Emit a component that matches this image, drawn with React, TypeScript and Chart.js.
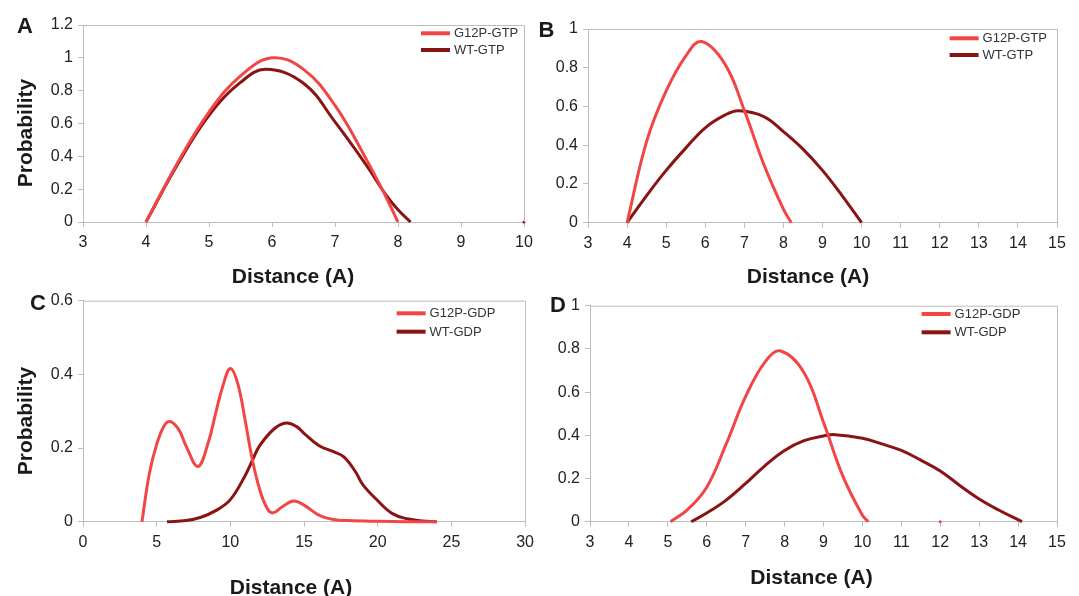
import React, { useEffect, useRef } from 'react';
import { Chart, registerables } from 'chart.js';

Chart.register(...registerables);

// ---------- data ----------
const A_G12P_X = [4, 4.5, 5, 5.5, 6, 6.5, 7, 7.5, 7.8, 8];
const A_G12P_Y = [0, 0.36, 0.67, 0.89, 1.0, 0.93, 0.71, 0.38, 0.16, 0];
const A_WT_X = [4, 4.5, 5, 5.5, 5.9, 6.5, 7, 7.5, 7.8, 8, 8.2];
const A_WT_Y = [0, 0.35, 0.65, 0.85, 0.93, 0.845, 0.61, 0.345, 0.17, 0.075, 0];
const A_DOT_X = [10];
const A_DOT_Y = [0];

const B_G12P_X = [4, 4.5, 5, 5.5, 5.9, 6.5, 7, 7.5, 8, 8.2];
const B_G12P_Y = [0, 0.42, 0.68, 0.86, 0.935, 0.82, 0.58, 0.3, 0.07, 0];
const B_WT_X = [4, 4.5, 5, 5.5, 6, 6.5, 6.85, 7.5, 8, 8.5, 9, 9.5, 10];
const B_WT_Y = [0, 0.14, 0.27, 0.385, 0.49, 0.555, 0.578, 0.548, 0.47, 0.38, 0.27, 0.14, 0];

const C_G12P_X = [4, 4.5, 5, 5.5, 5.9, 6.5, 7, 7.8, 8.5, 9, 9.5, 10, 10.5, 11, 11.5, 12, 12.5, 12.9, 13.5, 14.3, 15, 16, 17, 18, 20, 22, 24];
const C_G12P_Y = [0, 0.13, 0.21, 0.26, 0.272, 0.25, 0.205, 0.15, 0.215, 0.294, 0.37, 0.416, 0.375, 0.276, 0.167, 0.086, 0.036, 0.024, 0.04, 0.056, 0.045, 0.018, 0.006, 0.003, 0.001, 0, 0];
const C_WT_X = [5.7, 7, 8, 9, 10, 11, 11.5, 12, 13, 13.8, 14.5, 15, 16, 17, 17.7, 18.5, 19, 20, 21, 22, 23, 24];
const C_WT_Y = [0, 0.003, 0.012, 0.03, 0.06, 0.125, 0.167, 0.207, 0.253, 0.268, 0.258, 0.24, 0.207, 0.19, 0.176, 0.135, 0.1, 0.057, 0.022, 0.008, 0.002, 0];

const D_G12P_X = [5.07, 5.5, 6, 6.5, 7, 7.5, 7.9, 8.5, 9, 9.5, 10, 10.15];
const D_G12P_Y = [0, 0.055, 0.16, 0.36, 0.58, 0.74, 0.79, 0.69, 0.46, 0.21, 0.03, 0];
const D_WT_X = [5.6, 6, 6.5, 7, 7.5, 8, 8.5, 9, 9.3, 10, 10.5, 11, 11.5, 12, 12.5, 13, 13.5, 14.1];
const D_WT_Y = [0, 0.04, 0.1, 0.177, 0.26, 0.33, 0.375, 0.397, 0.403, 0.386, 0.36, 0.33, 0.285, 0.235, 0.168, 0.105, 0.054, 0];
const D_DOT_X = [12];
const D_DOT_Y = [0];

const X_TICKS_A = [3, 4, 5, 6, 7, 8, 9, 10];
const X_LABELS_A = ['3', '4', '5', '6', '7', '8', '9', '10'];
const X_TICKS_BD = [3, 4, 5, 6, 7, 8, 9, 10, 11, 12, 13, 14, 15];
const X_LABELS_BD = ['3', '4', '5', '6', '7', '8', '9', '10', '11', '12', '13', '14', '15'];
const X_TICKS_C = [0, 5, 10, 15, 20, 25, 30];
const X_LABELS_C = ['0', '5', '10', '15', '20', '25', '30'];
const Y_TICKS_A = [0, 0.2, 0.4, 0.6, 0.8, 1, 1.2];
const Y_LABELS_A = ['0', '0.2', '0.4', '0.6', '0.8', '1', '1.2'];
const Y_TICKS_BD = [0, 0.2, 0.4, 0.6, 0.8, 1];
const Y_LABELS_BD = ['0', '0.2', '0.4', '0.6', '0.8', '1'];
const Y_TICKS_C = [0, 0.2, 0.4, 0.6];
const Y_LABELS_C = ['0', '0.2', '0.4', '0.6'];

const LABELS_GTP = ['G12P-GTP', 'WT-GTP'];
const LABELS_GDP = ['G12P-GDP', 'WT-GDP'];

// ---------- styles ----------
const RED = '#f24646';
const DARK = '#8a1414';
const AXIS = '#bdbdbd';
const TEXT = '#222222';
const FONT = "'Liberation Sans', Arial, Helvetica, sans-serif";

const pts = (xs: number[], ys: number[]) => xs.map((x, i) => ({ x, y: ys[i] }));

type PanelCfg = {
  left: number; top: number; w: number; h: number;
  pad: { top: number; right: number; bottom: number };
  yWidth: number;
  xMin: number; xMax: number; xTicks: number[]; xLabels: string[];
  yMax: number; yTicks: number[]; yLabels: string[];
  series: { label: string; xs: number[]; ys: number[]; color: string }[];
  dots?: { xs: number[]; ys: number[]; color: string };
  legend: { x: number; y1: number; y2: number };
};

const PANELS: PanelCfg[] = [
  {
    left: 0, top: 0, w: 540, h: 290,
    pad: { top: 25, right: 16, bottom: 38 }, yWidth: 83,
    xMin: 3, xMax: 10, xTicks: X_TICKS_A, xLabels: X_LABELS_A,
    yMax: 1.2, yTicks: Y_TICKS_A, yLabels: Y_LABELS_A,
    series: [
      { label: LABELS_GTP[0], xs: A_G12P_X, ys: A_G12P_Y, color: RED },
      { label: LABELS_GTP[1], xs: A_WT_X, ys: A_WT_Y, color: DARK },
    ],
    dots: { xs: A_DOT_X, ys: A_DOT_Y, color: DARK },
    legend: { x: 421, y1: 33.3, y2: 50 },
  },
  {
    left: 540, top: 0, w: 539, h: 290,
    pad: { top: 29, right: 22, bottom: 37.3 }, yWidth: 48,
    xMin: 3, xMax: 15, xTicks: X_TICKS_BD, xLabels: X_LABELS_BD,
    yMax: 1, yTicks: Y_TICKS_BD, yLabels: Y_LABELS_BD,
    series: [
      { label: LABELS_GTP[0], xs: B_G12P_X, ys: B_G12P_Y, color: RED },
      { label: LABELS_GTP[1], xs: B_WT_X, ys: B_WT_Y, color: DARK },
    ],
    legend: { x: 409.6, y1: 38.3, y2: 55 },
  },
  {
    left: 0, top: 280, w: 540, h: 316,
    pad: { top: 20.7, right: 14, bottom: 44.3 }, yWidth: 83,
    xMin: 0, xMax: 30, xTicks: X_TICKS_C, xLabels: X_LABELS_C,
    yMax: 0.6, yTicks: Y_TICKS_C, yLabels: Y_LABELS_C,
    series: [
      { label: LABELS_GDP[0], xs: C_G12P_X, ys: C_G12P_Y, color: RED },
      { label: LABELS_GDP[1], xs: C_WT_X, ys: C_WT_Y, color: DARK },
    ],
    legend: { x: 396.6, y1: 33.3, y2: 51.7 },
  },
  {
    left: 540, top: 280, w: 539, h: 316,
    pad: { top: 25.7, right: 22, bottom: 44.3 }, yWidth: 50,
    xMin: 3, xMax: 15, xTicks: X_TICKS_BD, xLabels: X_LABELS_BD,
    yMax: 1, yTicks: Y_TICKS_BD, yLabels: Y_LABELS_BD,
    series: [
      { label: LABELS_GDP[0], xs: D_G12P_X, ys: D_G12P_Y, color: RED },
      { label: LABELS_GDP[1], xs: D_WT_X, ys: D_WT_Y, color: DARK },
    ],
    dots: { xs: D_DOT_X, ys: D_DOT_Y, color: RED },
    legend: { x: 381.6, y1: 34, y2: 52.3 },
  },
];

function PanelChart({ cfg }: { cfg: PanelCfg }) {
  const ref = useRef<HTMLCanvasElement>(null);
  useEffect(() => {
    const canvas = ref.current;
    if (!canvas) return;
    const framePlugin = {
      id: 'frame',
      afterDraw(chart: any) {
        const { ctx, chartArea: a } = chart;
        ctx.save();
        ctx.strokeStyle = AXIS;
        ctx.lineWidth = 1;
        ctx.beginPath();
        ctx.moveTo(a.left, a.top + 0.5);
        ctx.lineTo(a.right + 0.5, a.top + 0.5);
        ctx.lineTo(a.right + 0.5, a.bottom);
        ctx.stroke();
        ctx.restore();
      },
    };
    const legendPlugin = {
      id: 'panelLegend',
      afterDraw(chart: any) {
        const { ctx } = chart;
        ctx.save();
        cfg.series.forEach((s, i) => {
          const y = i === 0 ? cfg.legend.y1 : cfg.legend.y2;
          ctx.strokeStyle = s.color;
          ctx.lineWidth = 4;
          ctx.beginPath();
          ctx.moveTo(cfg.legend.x, y);
          ctx.lineTo(cfg.legend.x + 29, y);
          ctx.stroke();
          ctx.fillStyle = '#333';
          ctx.font = `13px ${FONT}`;
          ctx.textBaseline = 'middle';
          ctx.textAlign = 'left';
          ctx.fillText(s.label, cfg.legend.x + 33, y + 0.5);
        });
        ctx.restore();
      },
    };
    const datasets: any[] = cfg.series.map((s) => ({
      label: s.label,
      data: pts(s.xs, s.ys),
      borderColor: s.color,
      backgroundColor: s.color,
      borderWidth: 3,
      pointRadius: 0,
      tension: 0.4,
      fill: false,
      clip: 6,
    }));
    if (cfg.dots) {
      datasets.push({
        label: 'dot',
        data: pts(cfg.dots.xs, cfg.dots.ys),
        borderColor: cfg.dots.color,
        backgroundColor: cfg.dots.color,
        showLine: false,
        pointRadius: 1.5,
        borderWidth: 0,
        clip: 6,
      });
    }
    const tickFont = { family: FONT, size: 16 };
    const chart = new Chart(canvas, {
      type: 'line',
      data: { datasets },
      options: {
        responsive: false,
        animation: false,
        events: [],
        layout: { padding: { left: 0, top: cfg.pad.top, right: cfg.pad.right, bottom: cfg.pad.bottom } },
        plugins: { legend: { display: false }, tooltip: { enabled: false }, title: { display: false } },
        scales: {
          x: {
            type: 'linear',
            min: cfg.xMin,
            max: cfg.xMax,
            afterFit: (s: any) => { s.height = 30; },
            afterBuildTicks: (s: any) => { s.ticks = cfg.xTicks.map((v) => ({ value: v })); },
            ticks: {
              font: tickFont, color: TEXT, padding: 6, maxRotation: 0, autoSkip: false,
              callback: (_v: any, i: number) => cfg.xLabels[i],
            },
            grid: { drawOnChartArea: false, drawTicks: true, tickLength: 5, color: AXIS, lineWidth: 1 },
            border: { display: true, color: AXIS, width: 1 },
          },
          y: {
            type: 'linear',
            min: 0,
            max: cfg.yMax,
            afterFit: (s: any) => { s.width = cfg.yWidth; },
            afterBuildTicks: (s: any) => { s.ticks = cfg.yTicks.map((v) => ({ value: v })); },
            ticks: {
              font: tickFont, color: TEXT, padding: 5, autoSkip: false,
              callback: (_v: any, i: number) => cfg.yLabels[i],
            },
            grid: { drawOnChartArea: false, drawTicks: true, tickLength: 5, color: AXIS, lineWidth: 1 },
            border: { display: true, color: AXIS, width: 1 },
          },
        },
      } as any,
      plugins: [framePlugin, legendPlugin],
    });
    return () => chart.destroy();
  }, [cfg]);
  return (
    <canvas
      ref={ref}
      width={cfg.w}
      height={cfg.h}
      style={{ position: 'absolute', left: cfg.left, top: cfg.top, width: cfg.w, height: cfg.h }}
    />
  );
}

const textBase: React.CSSProperties = {
  position: 'absolute',
  fontFamily: FONT,
  fontWeight: 'bold',
  color: '#1a1a1a',
  whiteSpace: 'nowrap',
  lineHeight: 1,
};

function XTitle({ cx, cy }: { cx: number; cy: number }) {
  return (
    <div style={{ ...textBase, fontSize: 21, left: cx, top: cy, transform: 'translate(-50%, -50%)' }}>
      Distance (A)
    </div>
  );
}

function YTitle({ cx, cy }: { cx: number; cy: number }) {
  return (
    <div style={{ ...textBase, fontSize: 21, left: cx, top: cy, transform: 'translate(-50%, -50%) rotate(-90deg)' }}>
      Probability
    </div>
  );
}

function Letter({ x, y, t }: { x: number; y: number; t: string }) {
  return <div style={{ ...textBase, fontSize: 22, left: x, top: y }}>{t}</div>;
}

export default function App() {
  return (
    <div
      style={{
        position: 'absolute', left: 0, top: 0, width: 1079, height: 596,
        background: '#ffffff', overflow: 'hidden',
      }}
    >
      {PANELS.map((p, i) => (
        <PanelChart key={i} cfg={p} />
      ))}
      <Letter x={17} y={14.8} t="A" />
      <Letter x={538.5} y={18.8} t="B" />
      <Letter x={30} y={292} t="C" />
      <Letter x={550} y={293.8} t="D" />
      <YTitle cx={24} cy={132.5} />
      <YTitle cx={24} cy={421} />
      <XTitle cx={293} cy={275} />
      <XTitle cx={808} cy={275} />
      <XTitle cx={291} cy={585.5} />
      <XTitle cx={811.5} cy={576} />
    </div>
  );
}
